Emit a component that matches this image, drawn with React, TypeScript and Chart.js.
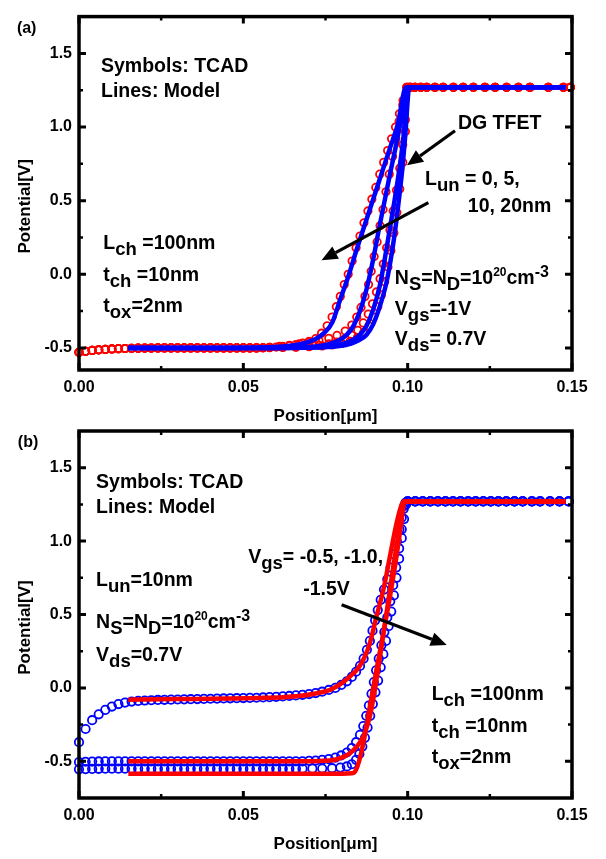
import React, { useEffect, useRef } from "react";
import { Chart, registerables } from "chart.js";

Chart.register(...registerables);

const FONT = '"Liberation Sans", Arial, Helvetica, sans-serif';
const RED = "#ff0000";
const BLUE = "#0000ff";

// ---------------- axes ----------------
const xMajor = [0, 0.05, 0.1, 0.15];
const xMinor = [0.025, 0.075, 0.125];
const yMajor = [-0.5, 0, 0.5, 1.0, 1.5];
const yMinor = [-0.25, 0.25, 0.75, 1.25];
const xRange = [0, 0.15];
const yRangeA = [-0.65, 1.75];
const yRangeB = [-0.75, 1.75];
const xTitle = "Position[μm]";
const yTitle = "Potential[V]";

// ---------------- panel (a): model lines (blue), L_un = 0, 5, 10, 20 nm ----------------
const aLun0X = [0.015, 0.058, 0.072, 0.078, 0.082, 0.085, 0.0875, 0.0895, 0.0915, 0.0935, 0.095, 0.0962, 0.0973, 0.0984, 0.0993, 0.1005, 0.11, 0.13, 0.148];
const aLun0Y = [-0.5, -0.5, -0.497, -0.49, -0.475, -0.45, -0.41, -0.34, -0.22, -0.06, 0.12, 0.3, 0.5, 0.72, 0.95, 1.27, 1.27, 1.27, 1.27];
const aLun5X = [0.015, 0.055, 0.07, 0.076, 0.08, 0.083, 0.0855, 0.0875, 0.0895, 0.0915, 0.093, 0.0945, 0.096, 0.0975, 0.0988, 0.1, 0.11, 0.13, 0.148];
const aLun5Y = [-0.5, -0.5, -0.497, -0.49, -0.475, -0.45, -0.41, -0.35, -0.24, -0.08, 0.1, 0.3, 0.5, 0.72, 0.95, 1.27, 1.27, 1.27, 1.27];
const aLun10X = [0.015, 0.05, 0.065, 0.072, 0.076, 0.079, 0.0815, 0.0835, 0.0855, 0.0875, 0.0895, 0.0912, 0.093, 0.0948, 0.0965, 0.098, 0.0998, 0.11, 0.13, 0.148];
const aLun10Y = [-0.5, -0.5, -0.497, -0.49, -0.475, -0.45, -0.41, -0.35, -0.25, -0.1, 0.1, 0.3, 0.5, 0.7, 0.88, 1.05, 1.27, 1.27, 1.27, 1.27];
const aLun20X = [0.015, 0.04, 0.055, 0.062, 0.066, 0.069, 0.072, 0.0745, 0.077, 0.0795, 0.082, 0.0845, 0.087, 0.0895, 0.092, 0.0945, 0.097, 0.0995, 0.11, 0.13, 0.148];
const aLun20Y = [-0.5, -0.5, -0.497, -0.49, -0.48, -0.465, -0.44, -0.4, -0.33, -0.17, -0.01, 0.17, 0.34, 0.51, 0.68, 0.85, 1.02, 1.27, 1.27, 1.27, 1.27];

// ---------------- panel (a): TCAD symbols (red) ----------------
const tcadALeftX = [0, 0.002, 0.004, 0.006, 0.008, 0.01, 0.012, 0.014, 0.016, 0.018, 0.02, 0.022, 0.024, 0.026, 0.028, 0.03, 0.032, 0.034, 0.036, 0.038, 0.04, 0.042, 0.044, 0.046, 0.048, 0.05, 0.052, 0.054, 0.056];
const tcadALeftY = [-0.53, -0.523, -0.517, -0.513, -0.51, -0.507, -0.505, -0.504, -0.503, -0.502, -0.501, -0.501, -0.5, -0.5, -0.5, -0.5, -0.5, -0.5, -0.5, -0.5, -0.5, -0.5, -0.5, -0.5, -0.5, -0.5, -0.5, -0.5, -0.499];
const tcadARightX = [0.1008, 0.1022, 0.104, 0.1058, 0.1083, 0.1108, 0.1139, 0.1169, 0.12, 0.1235, 0.1266, 0.1301, 0.1337, 0.1372, 0.1428, 0.1474, 0.1495];
const tcadARightY = [1.27, 1.27, 1.27, 1.27, 1.27, 1.27, 1.27, 1.27, 1.27, 1.27, 1.27, 1.27, 1.27, 1.27, 1.27, 1.27, 1.27];
const tA0X = [0.058, 0.062, 0.066, 0.07, 0.074, 0.077, 0.08, 0.0825, 0.0847, 0.0866, 0.0882, 0.0896, 0.0909, 0.092, 0.093, 0.094, 0.0949, 0.0958, 0.0967, 0.0976, 0.0985, 0.0993, 0.1003];
const tA0Y = [-0.498, -0.497, -0.495, -0.492, -0.487, -0.48, -0.47, -0.455, -0.43, -0.395, -0.35, -0.29, -0.22, -0.14, -0.05, 0.05, 0.16, 0.28, 0.42, 0.58, 0.76, 0.97, 1.27];
const tA5X = [0.058, 0.062, 0.066, 0.07, 0.073, 0.076, 0.0785, 0.081, 0.083, 0.0848, 0.0865, 0.088, 0.0893, 0.0905, 0.0916, 0.0926, 0.0936, 0.0946, 0.0956, 0.0966, 0.0976, 0.0985, 0.0993, 0.1001];
const tA5Y = [-0.498, -0.496, -0.493, -0.488, -0.482, -0.472, -0.46, -0.44, -0.415, -0.38, -0.33, -0.27, -0.2, -0.12, -0.03, 0.07, 0.18, 0.3, 0.43, 0.57, 0.72, 0.88, 1.05, 1.27];
const tA10X = [0.058, 0.061, 0.064, 0.067, 0.07, 0.073, 0.076, 0.0785, 0.081, 0.083, 0.0845, 0.0858, 0.087, 0.0881, 0.0889, 0.0898, 0.0907, 0.0916, 0.0925, 0.0934, 0.0944, 0.0954, 0.0964, 0.0974, 0.0985, 0.0997];
const tA10Y = [-0.496, -0.49, -0.482, -0.472, -0.462, -0.45, -0.435, -0.415, -0.385, -0.345, -0.29, -0.225, -0.15, -0.07, 0.02, 0.12, 0.22, 0.33, 0.44, 0.56, 0.68, 0.8, 0.92, 1.04, 1.15, 1.27];
const tA20X = [0.058, 0.06, 0.062, 0.064, 0.066, 0.068, 0.07, 0.072, 0.0738, 0.0755, 0.077, 0.0783, 0.0795, 0.0807, 0.0819, 0.0831, 0.0843, 0.0855, 0.0867, 0.0879, 0.0891, 0.0903, 0.0915, 0.0927, 0.0939, 0.0951, 0.0963, 0.0975, 0.0986, 0.0997];
const tA20Y = [-0.497, -0.494, -0.49, -0.485, -0.477, -0.468, -0.455, -0.437, -0.4, -0.35, -0.29, -0.22, -0.15, -0.07, 0.0, 0.09, 0.18, 0.26, 0.35, 0.43, 0.51, 0.59, 0.68, 0.76, 0.84, 0.92, 1.0, 1.09, 1.18, 1.27];

// ---------------- panel (b): model lines (red), Vgs = -0.5, -1.0, -1.5 V ----------------
const bVgs05X = [0.015, 0.025, 0.035, 0.045, 0.055, 0.062, 0.067, 0.072, 0.0764, 0.0795, 0.0824, 0.0848, 0.0868, 0.0885, 0.0905, 0.0926, 0.0946, 0.0966, 0.0982, 0.099, 0.11, 0.13, 0.148];
const bVgs05Y = [-0.08, -0.077, -0.075, -0.072, -0.068, -0.063, -0.055, -0.038, -0.013, 0.025, 0.077, 0.13, 0.205, 0.305, 0.486, 0.668, 0.895, 1.12, 1.25, 1.27, 1.27, 1.27, 1.27];
const bVgs10X = [0.015, 0.03, 0.045, 0.06, 0.068, 0.0764, 0.0805, 0.0824, 0.0845, 0.0865, 0.0885, 0.09, 0.0916, 0.0931, 0.0946, 0.0961, 0.0977, 0.0988, 0.11, 0.13, 0.148];
const bVgs10Y = [-0.5, -0.5, -0.5, -0.5, -0.5, -0.495, -0.47, -0.445, -0.4, -0.33, -0.195, -0.013, 0.214, 0.44, 0.668, 0.895, 1.12, 1.27, 1.27, 1.27, 1.27];
const bVgs15X = [0.015, 0.03, 0.05, 0.07, 0.08, 0.083, 0.084, 0.0852, 0.0865, 0.0885, 0.0905, 0.0926, 0.0946, 0.0966, 0.0982, 0.099, 0.11, 0.13, 0.148];
const bVgs15Y = [-0.585, -0.585, -0.585, -0.585, -0.585, -0.582, -0.57, -0.5, -0.377, -0.127, 0.123, 0.373, 0.62, 0.895, 1.146, 1.27, 1.27, 1.27, 1.27];

// ---------------- panel (b): TCAD symbols (blue) ----------------
const tcadBLeftX = [0, 0.002, 0.004, 0.006, 0.008, 0.01, 0.012, 0.014, 0.016, 0.018, 0.02, 0.022, 0.024, 0.026, 0.028, 0.03, 0.032, 0.034, 0.036, 0.038, 0.04, 0.042, 0.044, 0.046, 0.048, 0.05, 0.052, 0.054, 0.056, 0.058, 0.06, 0.062, 0.064, 0.066];
const tB05LeftY = [-0.37, -0.28, -0.22, -0.18, -0.15, -0.127, -0.11, -0.1, -0.093, -0.089, -0.086, -0.084, -0.082, -0.081, -0.08, -0.079, -0.078, -0.077, -0.076, -0.075, -0.074, -0.073, -0.072, -0.071, -0.07, -0.069, -0.068, -0.067, -0.065, -0.063, -0.061, -0.058, -0.055, -0.051];
const tB10LeftY = [-0.505, -0.503, -0.502, -0.501, -0.5, -0.5, -0.5, -0.5, -0.5, -0.5, -0.5, -0.5, -0.5, -0.5, -0.5, -0.5, -0.5, -0.5, -0.5, -0.5, -0.5, -0.5, -0.5, -0.5, -0.5, -0.5, -0.5, -0.5, -0.5, -0.5, -0.5, -0.5, -0.5, -0.5];
const tB15LeftY = [-0.555, -0.553, -0.552, -0.551, -0.55, -0.55, -0.55, -0.55, -0.55, -0.55, -0.55, -0.55, -0.55, -0.55, -0.55, -0.55, -0.55, -0.55, -0.55, -0.55, -0.55, -0.55, -0.55, -0.55, -0.55, -0.55, -0.55, -0.55, -0.55, -0.55, -0.55, -0.55, -0.55, -0.55];
const tB05X = [0.068, 0.07, 0.072, 0.074, 0.076, 0.078, 0.0798, 0.0815, 0.083, 0.0843, 0.0855, 0.0866, 0.0876, 0.0885, 0.0893, 0.0901, 0.0909, 0.0918, 0.0928, 0.0938, 0.0948, 0.0958, 0.0967, 0.0975, 0.0982, 0.0988, 0.0993];
const tB05Y = [-0.047, -0.042, -0.035, -0.026, -0.014, 0.0, 0.02, 0.045, 0.075, 0.11, 0.15, 0.2, 0.26, 0.32, 0.39, 0.46, 0.53, 0.6, 0.67, 0.74, 0.82, 0.91, 1.0, 1.08, 1.16, 1.22, 1.26];
const tB10X = [0.068, 0.07, 0.072, 0.074, 0.076, 0.078, 0.0798, 0.0815, 0.083, 0.0843, 0.0855, 0.0865, 0.0874, 0.0882, 0.089, 0.0897, 0.0904, 0.0912, 0.092, 0.0929, 0.0938, 0.0947, 0.0956, 0.0965, 0.0974, 0.0982, 0.099];
const tB10Y = [-0.5, -0.497, -0.495, -0.49, -0.485, -0.475, -0.46, -0.44, -0.41, -0.37, -0.32, -0.26, -0.19, -0.12, -0.04, 0.04, 0.12, 0.2, 0.29, 0.38, 0.48, 0.59, 0.7, 0.82, 0.95, 1.08, 1.24];
const tB15X = [0.068, 0.071, 0.074, 0.077, 0.0795, 0.0815, 0.083, 0.0843, 0.0853, 0.0862, 0.087, 0.0878, 0.0886, 0.0894, 0.0902, 0.091, 0.0918, 0.0926, 0.0934, 0.0942, 0.095, 0.0958, 0.0966, 0.0974, 0.0982, 0.0989, 0.0995];
const tB15Y = [-0.55, -0.55, -0.549, -0.547, -0.543, -0.535, -0.52, -0.49, -0.45, -0.4, -0.34, -0.27, -0.19, -0.11, -0.03, 0.05, 0.14, 0.23, 0.32, 0.42, 0.52, 0.63, 0.75, 0.88, 1.02, 1.15, 1.25];
const tcadBRightX = [0.1, 0.1023, 0.1046, 0.1069, 0.1092, 0.1115, 0.1138, 0.1161, 0.1184, 0.1207, 0.123, 0.1253, 0.1276, 0.13, 0.1325, 0.135, 0.1378, 0.1403, 0.1433, 0.1462, 0.149];
const tcadBRightY = [1.27, 1.27, 1.27, 1.27, 1.27, 1.27, 1.27, 1.27, 1.27, 1.27, 1.27, 1.27, 1.27, 1.27, 1.27, 1.27, 1.27, 1.27, 1.27, 1.27, 1.27];

// ---------------- annotations ----------------
type Part = [string, string?];
type Note = { x: number; y: number; parts: Part[]; size?: number };
type Arrow = { x1: number; y1: number; x2: number; y2: number };

const notesA: Note[] = [
  { x: -0.0189, y: 1.642, parts: [["(a)"]], size: 16 },
  { x: 0.0067, y: 1.371, parts: [["Symbols: TCAD"]] },
  { x: 0.0067, y: 1.207, parts: [["Lines: Model"]] },
  { x: 0.0074, y: 0.171, parts: [["L"], ["ch", "sub"], [" =100nm"]] },
  { x: 0.0074, y: -0.044, parts: [["t"], ["ch", "sub"], [" =10nm"]] },
  { x: 0.0074, y: -0.254, parts: [["t"], ["ox", "sub"], ["=2nm"]] },
  { x: 0.1153, y: 0.988, parts: [["DG TFET"]] },
  { x: 0.1053, y: 0.607, parts: [["L"], ["un", "sub"], [" = 0, 5,"]] },
  { x: 0.1183, y: 0.422, parts: [["10, 20nm"]] },
  { x: 0.0961, y: -0.069, parts: [["N"], ["S", "sub"], ["=N"], ["D", "sub"], ["=10"], ["20", "sup"], ["cm"], ["-3", "sup2"]] },
  { x: 0.0961, y: -0.275, parts: [["V"], ["gs", "sub"], ["=-1V"]] },
  { x: 0.0961, y: -0.482, parts: [["V"], ["ds", "sub"], ["= 0.7V"]] },
];
const arrowsA: Arrow[] = [
  { x1: 0.1144, y1: 0.975, x2: 0.0998, y2: 0.74 },
  { x1: 0.1063, y1: 0.487, x2: 0.0738, y2: 0.095 },
];

const notesB: Note[] = [
  { x: -0.0186, y: 1.643, parts: [["(b)"]], size: 16 },
  { x: 0.0052, y: 1.362, parts: [["Symbols: TCAD"]] },
  { x: 0.0052, y: 1.191, parts: [["Lines: Model"]] },
  { x: 0.0052, y: 0.691, parts: [["L"], ["un", "sub"], ["=10nm"]] },
  { x: 0.0052, y: 0.407, parts: [["N"], ["S", "sub"], ["=N"], ["D", "sub"], ["=10"], ["20", "sup"], ["cm"], ["-3", "sup2"]] },
  { x: 0.0052, y: 0.18, parts: [["V"], ["ds", "sub"], ["=0.7V"]] },
  { x: 0.0515, y: 0.85, parts: [["V"], ["gs", "sub"], ["= -0.5, -1.0,"]] },
  { x: 0.0682, y: 0.634, parts: [["-1.5V"]] },
  { x: 0.1073, y: -0.081, parts: [["L"], ["ch", "sub"], [" =100nm"]] },
  { x: 0.1073, y: -0.298, parts: [["t"], ["ch", "sub"], [" =10nm"]] },
  { x: 0.1073, y: -0.513, parts: [["t"], ["ox", "sub"], ["=2nm"]] },
];
const arrowsB: Arrow[] = [{ x1: 0.0799, y1: 0.566, x2: 0.1119, y2: 0.293 }];

// ---------------- helpers ----------------
const pts = (xs: number[], ys: number[]) => xs.map((x, i) => ({ x, y: ys[i] }));

const lineDs = (xs: number[], ys: number[], color: string) => ({
  data: pts(xs, ys),
  showLine: true,
  borderColor: color,
  borderWidth: 4.5,
  pointRadius: 0,
  cubicInterpolationMode: "monotone",
  fill: false,
});

const circleDs = (xs: number[], ys: number[], color: string, r: number) => ({
  data: pts(xs, ys),
  showLine: false,
  pointStyle: "circle",
  pointRadius: r,
  pointBorderWidth: 1.8,
  borderColor: color,
  pointBorderColor: color,
  backgroundColor: "rgba(0,0,0,0)",
  pointBackgroundColor: "rgba(0,0,0,0)",
  clip: false,
});

const TEXT_SIZE = 19.5;

function drawRich(ctx: CanvasRenderingContext2D, x: number, y: number, parts: Part[], base: number) {
  let cx = x;
  for (const [t, kind] of parts) {
    let size = base;
    let dy = 0;
    if (kind === "sub") { size = base - 1; dy = 6; }
    if (kind === "sup") { size = 12; dy = -8; }
    if (kind === "sup2") { size = 16; dy = -7; }
    ctx.font = `bold ${size}px ${FONT}`;
    ctx.fillText(t, cx, y + dy);
    cx += ctx.measureText(t).width;
  }
}

const makeDecor = (id: string, notes: Note[], arrows: Arrow[]) => ({
  id,
  afterDatasetsDraw(chart: any) {
    const { ctx, chartArea: a, scales } = chart;
    const sx = scales.x;
    const sy = scales.y;
    ctx.save();
    ctx.strokeStyle = "#000";
    ctx.fillStyle = "#000";
    const xTick = (v: number, len: number) => {
      const p = sx.getPixelForValue(v);
      ctx.beginPath();
      ctx.moveTo(p, a.bottom); ctx.lineTo(p, a.bottom - len);
      ctx.moveTo(p, a.top); ctx.lineTo(p, a.top + len);
      ctx.stroke();
    };
    const yTick = (v: number, len: number) => {
      const p = sy.getPixelForValue(v);
      ctx.beginPath();
      ctx.moveTo(a.left, p); ctx.lineTo(a.left + len, p);
      ctx.moveTo(a.right, p); ctx.lineTo(a.right - len, p);
      ctx.stroke();
    };
    ctx.lineWidth = 3;
    xMajor.forEach((v) => xTick(v, 7));
    yMajor.forEach((v) => yTick(v, 7));
    ctx.lineWidth = 2.5;
    xMinor.forEach((v) => xTick(v, 4));
    yMinor.forEach((v) => yTick(v, 4));
    ctx.lineWidth = 3.5;
    ctx.strokeRect(a.left, a.top, a.right - a.left, a.bottom - a.top);
    for (const ar of arrows) {
      const x1 = sx.getPixelForValue(ar.x1), y1 = sy.getPixelForValue(ar.y1);
      const x2 = sx.getPixelForValue(ar.x2), y2 = sy.getPixelForValue(ar.y2);
      const ang = Math.atan2(y2 - y1, x2 - x1);
      const hl = 16, hw = 7;
      const bx = x2 - hl * Math.cos(ang), by = y2 - hl * Math.sin(ang);
      ctx.lineWidth = 3.2;
      ctx.beginPath(); ctx.moveTo(x1, y1); ctx.lineTo(bx, by); ctx.stroke();
      ctx.beginPath();
      ctx.moveTo(x2, y2);
      ctx.lineTo(bx + hw * Math.sin(ang), by - hw * Math.cos(ang));
      ctx.lineTo(bx - hw * Math.sin(ang), by + hw * Math.cos(ang));
      ctx.closePath(); ctx.fill();
    }
    ctx.textAlign = "left";
    ctx.textBaseline = "alphabetic";
    for (const n of notes) {
      drawRich(ctx, sx.getPixelForValue(n.x), sy.getPixelForValue(n.y), n.parts, n.size ?? TEXT_SIZE);
    }
    ctx.font = `bold 17px ${FONT}`;
    ctx.textAlign = "center";
    ctx.textBaseline = "middle";
    ctx.fillText(xTitle, (a.left + a.right) / 2, a.bottom + 46);
    ctx.save();
    ctx.translate(25, (a.top + a.bottom) / 2 + 13);
    ctx.rotate(-Math.PI / 2);
    ctx.fillText(yTitle, 0, 0);
    ctx.restore();
    ctx.restore();
  },
});

const tickFont = { family: FONT, size: 16, weight: "bold" as const };

function makeConfig(datasets: any[], yRange: number[], padTop: number, axisH: number, decor: any) {
  return {
    type: "scatter" as const,
    data: { datasets },
    options: {
      animation: false as const,
      responsive: false,
      events: [],
      layout: { padding: { top: padTop, right: 34, left: 0, bottom: 0 } },
      plugins: { legend: { display: false }, tooltip: { enabled: false } },
      scales: {
        x: {
          type: "linear" as const,
          min: xRange[0],
          max: xRange[1],
          afterBuildTicks: (s: any) => { s.ticks = xMajor.map((v) => ({ value: v })); },
          afterFit: (s: any) => { s.height = axisH; },
          grid: { display: false, drawTicks: false },
          border: { display: false },
          ticks: { font: tickFont, color: "#000", padding: 8, maxRotation: 0, autoSkip: false, callback: (v: any) => Number(v).toFixed(2) },
        },
        y: {
          type: "linear" as const,
          min: yRange[0],
          max: yRange[1],
          afterBuildTicks: (s: any) => { s.ticks = yMajor.map((v) => ({ value: v })); },
          afterFit: (s: any) => { s.width = 79; },
          grid: { display: false, drawTicks: false },
          border: { display: false },
          ticks: { font: tickFont, color: "#000", padding: 7, autoSkip: false, callback: (v: any) => Number(v).toFixed(1) },
        },
      },
    },
    plugins: [decor],
  };
}

function buildA() {
  const r = 3.7;
  const datasets = [
    lineDs(aLun0X, aLun0Y, BLUE),
    lineDs(aLun5X, aLun5Y, BLUE),
    lineDs(aLun10X, aLun10Y, BLUE),
    lineDs(aLun20X, aLun20Y, BLUE),
    circleDs([...tcadALeftX, ...tA0X, ...tcadARightX], [...tcadALeftY, ...tA0Y, ...tcadARightY], RED, r),
    circleDs([...tcadALeftX, ...tA5X, ...tcadARightX], [...tcadALeftY, ...tA5Y, ...tcadARightY], RED, r),
    circleDs([...tcadALeftX, ...tA10X, ...tcadARightX], [...tcadALeftY, ...tA10Y, ...tcadARightY], RED, r),
    circleDs([...tcadALeftX, ...tA20X, ...tcadARightX], [...tcadALeftY, ...tA20Y, ...tcadARightY], RED, r),
  ];
  return makeConfig(datasets, yRangeA, 3, 60, makeDecor("decorA", notesA, arrowsA));
}

function buildB() {
  const r = 4.2;
  const datasets = [
    lineDs(bVgs05X, bVgs05Y, RED),
    lineDs(bVgs10X, bVgs10Y, RED),
    lineDs(bVgs15X, bVgs15Y, RED),
    circleDs([...tcadBLeftX, ...tB05X, ...tcadBRightX], [...tB05LeftY, ...tB05Y, ...tcadBRightY], BLUE, r),
    circleDs([...tcadBLeftX, ...tB10X, ...tcadBRightX], [...tB10LeftY, ...tB10Y, ...tcadBRightY], BLUE, r),
    circleDs([...tcadBLeftX, ...tB15X, ...tcadBRightX], [...tB15LeftY, ...tB15Y, ...tcadBRightY], BLUE, r),
  ];
  return makeConfig(datasets, yRangeB, 26, 61, makeDecor("decorB", notesB, arrowsB));
}

function Panel({ top, height, build }: { top: number; height: number; build: () => any }) {
  const ref = useRef<HTMLCanvasElement>(null);
  useEffect(() => {
    const chart = new Chart(ref.current as HTMLCanvasElement, build());
    return () => chart.destroy();
  }, []);
  return (
    <canvas
      ref={ref}
      width={606}
      height={height}
      style={{ position: "absolute", left: 0, top, width: 606, height }}
    />
  );
}

export default function App() {
  return (
    <div style={{ position: "absolute", left: 0, top: 0, width: 606, height: 859, background: "#fff" }}>
      <Panel top={0} height={430} build={buildA} />
      <Panel top={405} height={454} build={buildB} />
    </div>
  );
}
